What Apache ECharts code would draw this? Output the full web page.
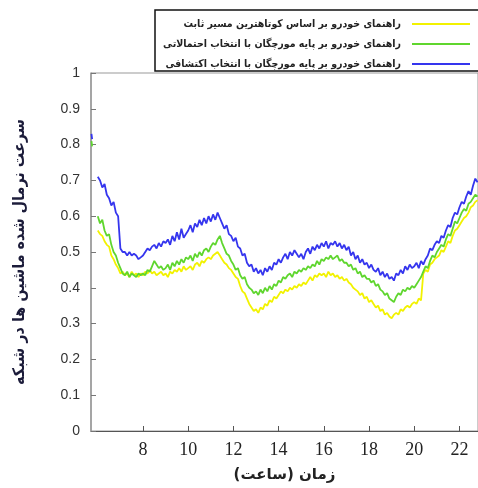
<!DOCTYPE html>
<html>
<head>
<meta charset="utf-8">
<script src="https://cdn.jsdelivr.net/npm/echarts@6/dist/echarts.min.js"></script>
<style>
  html, body { margin: 0; padding: 0; background: #fff; }
  #main { width: 478px; height: 488px; }
</style>
</head>
<body>
<div id="main"></div>
<script>
// ساعت شروع و گام زمانی داده ها
var startHour = 6.0;
var stepHour = 0.1;
var hourTicks = [8, 10, 12, 14, 16, 18, 20, 22];

var seriesNames = [
  'راهنمای خودرو بر اساس کوتاهترین مسیر ثابت',
  'راهنمای خودرو بر پایه مورچگان با انتخاب احتمالاتی',
  'راهنمای خودرو بر پایه مورچگان با انتخاب اکتشافی'
];

// نقاط جدا در ابتدای محور
var leadHours = [5.72, 5.75];
var leadGreen = [0.81, 0.795];
var leadBlue = [0.83, 0.815];

var yellowVals = [
  0.56, 0.55, 0.545, 0.53, 0.52, 0.515, 0.49, 0.48, 0.465, 0.455,
  0.44, 0.445, 0.435, 0.44, 0.43, 0.445, 0.435, 0.44, 0.43, 0.44,
  0.435, 0.445, 0.44, 0.45, 0.44, 0.445, 0.435, 0.44, 0.445, 0.435,
  0.44, 0.43, 0.445, 0.44, 0.45, 0.445, 0.455, 0.445, 0.46, 0.45,
  0.455, 0.46, 0.45, 0.465, 0.47, 0.46, 0.475, 0.47, 0.48, 0.485,
  0.48, 0.49, 0.495, 0.50, 0.49, 0.48, 0.47, 0.465, 0.455, 0.45,
  0.44, 0.43, 0.425, 0.405, 0.39, 0.385, 0.37, 0.355, 0.345, 0.335,
  0.34, 0.33, 0.345, 0.34, 0.355, 0.35, 0.365, 0.36, 0.375, 0.37,
  0.38, 0.39, 0.385, 0.395, 0.39, 0.40, 0.395, 0.405, 0.40, 0.41,
  0.405, 0.415, 0.41, 0.42, 0.43, 0.42, 0.435, 0.43, 0.44, 0.435,
  0.44, 0.43, 0.445, 0.435, 0.44, 0.43, 0.435, 0.425, 0.43, 0.42,
  0.425, 0.415, 0.41, 0.40, 0.395, 0.39, 0.38, 0.385, 0.37, 0.375,
  0.36, 0.365, 0.355, 0.345, 0.35, 0.335, 0.34, 0.325, 0.33, 0.32,
  0.315, 0.325, 0.33, 0.325, 0.34, 0.335, 0.345, 0.35, 0.345, 0.355,
  0.36, 0.355, 0.37, 0.365, 0.44, 0.45, 0.445, 0.465, 0.47, 0.48,
  0.485, 0.49, 0.505, 0.50, 0.515, 0.53, 0.525, 0.545, 0.56, 0.565,
  0.575, 0.585, 0.595, 0.60, 0.61, 0.625, 0.63, 0.64, 0.645
];

var greenVals = [
  0.60, 0.58, 0.59, 0.56, 0.545, 0.55, 0.52, 0.50, 0.49, 0.47,
  0.455, 0.44, 0.435, 0.445, 0.43, 0.44, 0.435, 0.43, 0.44, 0.435,
  0.44, 0.435, 0.45, 0.445, 0.46, 0.475, 0.465, 0.455, 0.46, 0.45,
  0.455, 0.465, 0.45, 0.47, 0.46, 0.475, 0.465, 0.48, 0.47, 0.485,
  0.48, 0.49, 0.475, 0.495, 0.485, 0.50, 0.49, 0.505, 0.51, 0.50,
  0.515, 0.525, 0.52, 0.535, 0.545, 0.525, 0.51, 0.495, 0.49, 0.475,
  0.465, 0.45, 0.455, 0.435, 0.425, 0.43, 0.41, 0.40, 0.395, 0.385,
  0.39, 0.38, 0.395, 0.385, 0.40, 0.39, 0.405, 0.395, 0.41, 0.405,
  0.42, 0.415, 0.43, 0.425, 0.435, 0.44, 0.43, 0.445, 0.44, 0.45,
  0.445, 0.455, 0.45, 0.46, 0.455, 0.465, 0.46, 0.475, 0.465, 0.48,
  0.475, 0.485, 0.48, 0.49, 0.48, 0.485, 0.49, 0.475, 0.48, 0.47,
  0.47, 0.46, 0.465, 0.45, 0.455, 0.44, 0.445, 0.43, 0.435, 0.425,
  0.425, 0.415, 0.42, 0.405, 0.41, 0.395, 0.39, 0.38, 0.385, 0.37,
  0.365, 0.36, 0.375, 0.385, 0.38, 0.395, 0.39, 0.40, 0.395, 0.405,
  0.40, 0.41, 0.42, 0.43, 0.445, 0.46, 0.455, 0.475, 0.49, 0.485,
  0.50, 0.51, 0.52, 0.515, 0.535, 0.55, 0.545, 0.565, 0.585, 0.58,
  0.595, 0.61, 0.62, 0.615, 0.635, 0.64, 0.65, 0.66, 0.655
];

var blueVals = [
  0.71, 0.70, 0.68, 0.69, 0.66, 0.65, 0.63, 0.64, 0.61, 0.60,
  0.51, 0.50, 0.50, 0.49, 0.50, 0.49, 0.495, 0.49, 0.48, 0.485,
  0.49, 0.50, 0.51, 0.505, 0.515, 0.52, 0.51, 0.525, 0.515, 0.53,
  0.525, 0.535, 0.52, 0.545, 0.53, 0.555, 0.535, 0.565, 0.54, 0.55,
  0.56, 0.575, 0.555, 0.58, 0.57, 0.59, 0.575, 0.595, 0.58, 0.60,
  0.585, 0.605, 0.59, 0.61, 0.595, 0.58, 0.565, 0.575, 0.55, 0.545,
  0.53, 0.54, 0.515, 0.51, 0.49, 0.495, 0.47, 0.46, 0.465, 0.445,
  0.455, 0.44, 0.45, 0.435, 0.455, 0.445, 0.46, 0.45, 0.47, 0.465,
  0.48, 0.47, 0.485, 0.495, 0.48, 0.50, 0.49, 0.505, 0.495, 0.485,
  0.495, 0.48, 0.50, 0.51, 0.495, 0.515, 0.505, 0.52, 0.51, 0.525,
  0.515, 0.53, 0.51, 0.525, 0.52, 0.53, 0.515, 0.525, 0.51, 0.52,
  0.505, 0.515, 0.49, 0.50, 0.48, 0.49, 0.47, 0.48, 0.465, 0.47,
  0.455, 0.465, 0.45, 0.445, 0.455, 0.435, 0.445, 0.43, 0.44, 0.425,
  0.43, 0.42, 0.44, 0.435, 0.45, 0.44, 0.46, 0.45, 0.465, 0.455,
  0.46, 0.47, 0.455, 0.475, 0.465, 0.48, 0.49, 0.51, 0.505, 0.52,
  0.53, 0.525, 0.545, 0.54, 0.56, 0.575, 0.57, 0.595, 0.61, 0.605,
  0.625, 0.64, 0.635, 0.655, 0.67, 0.66, 0.685, 0.705, 0.695
];

var colors = ['#f2f200', '#5fd62e', '#3535ee'];

function toPairs(vals, leadH, leadV) {
  var out = [];
  if (leadH) {
    for (var j = 0; j < leadH.length; j++) out.push([leadH[j], leadV[j]]);
    out.push([5.8, null]);
  }
  for (var i = 0; i < vals.length; i++) {
    out.push([+(startHour + i * stepHour).toFixed(2), vals[i]]);
  }
  return out;
}

var myChart = echarts.init(document.getElementById('main'));

var mkSeries = function (idx, data) {
  return {
    name: seriesNames[idx],
    type: 'line',
    data: data,
    showSymbol: false,
    connectNulls: false,
    silent: true,
    animation: false,
    lineStyle: { color: colors[idx], width: 1.8 },
    itemStyle: { color: colors[idx] }
  };
};

var option = {
  backgroundColor: '#fff',
  animation: false,
  grid: {
    left: 91, right: -2, top: 73, bottom: 55,
    show: true, borderColor: '#999', borderWidth: 1
  },
  graphic: [{
    type: 'rect', z: 3,
    shape: { x: 155, y: 10, width: 340, height: 61 },
    style: { fill: '#fff', stroke: '#111', lineWidth: 1.5 }
  }],
  legend: {
    z: 10,
    orient: 'vertical',
    align: 'right',
    right: 3, top: 12,
    itemWidth: 58, itemHeight: 2, itemGap: 6,
    icon: 'rect',
    data: seriesNames,
    textStyle: {
      fontFamily: 'DejaVu Sans Condensed, DejaVu Sans', fontWeight: 'bold', fontSize: 10.5,
      color: '#222', lineHeight: 14, padding: [0, 6, 0, 0]
    }
  },
  xAxis: {
    type: 'value', min: 5.7, max: 22.82,
    name: 'زمان (ساعت)', nameLocation: 'middle', nameGap: 37,
    nameTextStyle: { fontFamily: 'DejaVu Sans', fontWeight: 'bold', fontSize: 15, color: '#222' },
    axisLine: { show: true, lineStyle: { color: '#555', width: 1 } },
    axisTick: { show: true, inside: true, length: 5, customValues: hourTicks, lineStyle: { color: '#555' } },
    axisLabel: {
      customValues: hourTicks, margin: 10,
      fontFamily: 'Liberation Serif', fontSize: 18, color: '#222'
    },
    splitLine: { show: false }
  },
  yAxis: {
    type: 'value', min: 0, max: 1, interval: 0.1,
    name: 'سرعت نرمال شده ماشین ها در شبکه', nameLocation: 'middle', nameGap: 63,
    nameTextStyle: { fontFamily: 'DejaVu Sans Condensed, DejaVu Sans', fontWeight: 'bold', fontSize: 16, color: '#1c1c3a' },
    axisLine: { show: true, lineStyle: { color: '#999', width: 1.5 } },
    axisTick: { show: true, inside: true, length: 5, lineStyle: { color: '#777' } },
    axisLabel: {
      margin: 11, fontFamily: 'Liberation Sans', fontSize: 14, color: '#333',
      formatter: function (v) { return String(+v.toFixed(1)); }
    },
    splitLine: { show: false }
  },
  series: [
    mkSeries(0, toPairs(yellowVals)),
    mkSeries(1, toPairs(greenVals, leadHours, leadGreen)),
    mkSeries(2, toPairs(blueVals, leadHours, leadBlue))
  ]
};

myChart.setOption(option);
</script>
</body>
</html>
